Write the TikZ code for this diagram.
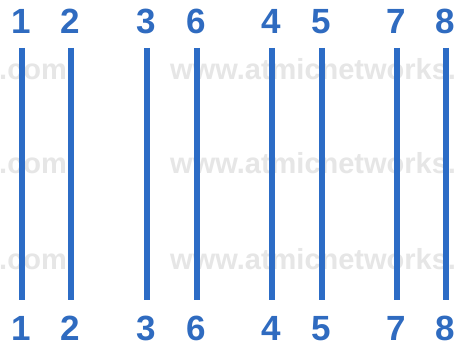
\documentclass[tikz,border=0pt]{standalone}
\usepackage{fontspec}
\setmainfont{Liberation Sans}
\definecolor{wireblue}{HTML}{2C6CC6}
\definecolor{numblue}{HTML}{2F6BC0}
\definecolor{wmgray}{HTML}{E6E6E6}
\begin{document}
\begin{tikzpicture}[x=1pt,y=-1pt,
  pinlabel/.style={inner sep=0pt,anchor=base,text=numblue,font=\fontsize{35}{35}\selectfont\bfseries},
  wire/.style={draw=wireblue,line width=6pt},
  wmark/.style={inner sep=0pt,text=wmgray,font=\fontsize{29}{29}\selectfont\bfseries}]
\useasboundingbox (0,0) rectangle (455,347);
\fill[white] (0,0) rectangle (455,347);
% watermark
\foreach \y [count=\i] in {80,174,270}{
  \node[wmark,anchor=base west] (wa\i) at (-1,\y) {.com};
  \node[wmark,anchor=base west] (wb\i) at (170,\y) {www.atmicnetworks.};
}
% wires and labels
\foreach \x/\n [count=\i] in {21.5/1,70.5/2,146.5/3,196.5/6,271.5/4,321.5/5,396.5/7,445.5/8}{
  \node[pinlabel] (t\i) at (\x,33.5) {\n};
  \node[pinlabel] (b\i) at (\x,340) {\n};
  \coordinate (wt\i) at (\x,48);
  \coordinate (wb\i) at (\x,300);
  \draw[wire] (wt\i) -- (wb\i);
}
\end{tikzpicture}
\end{document}
